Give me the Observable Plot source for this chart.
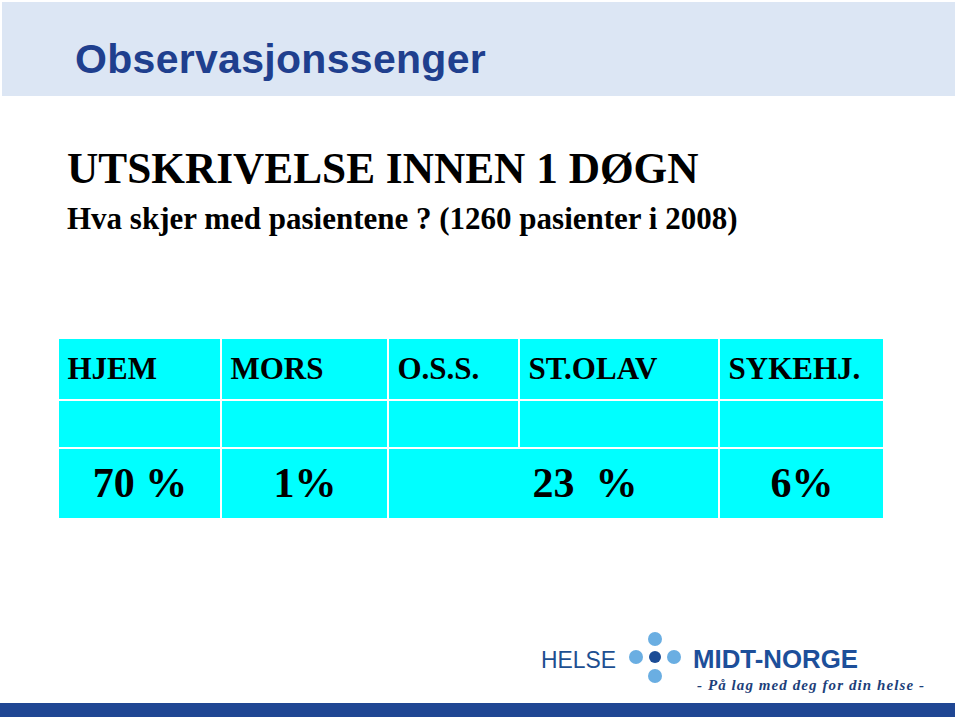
<!DOCTYPE html>
<html>
<head>
<meta charset="utf-8">
<script src="https://cdn.jsdelivr.net/npm/d3@7"></script>
<script src="https://cdn.jsdelivr.net/npm/@observablehq/plot@0.6"></script>
<style>
  html, body { margin: 0; padding: 0; background: #ffffff; }
  #slide { position: relative; width: 960px; height: 720px; overflow: hidden; background: #ffffff; }
  .abs { position: absolute; white-space: pre; line-height: 1; }
  #band { left: 2px; top: 2px; width: 953px; height: 94px; background: #dce6f4; }
  #title { left: 75px; top: 39px; font-family: "Liberation Sans", Arial, sans-serif; font-weight: bold; font-size: 41px; color: #1f3f8e; letter-spacing: 0.3px; }
  #heading { left: 67px; top: 147px; font-family: "Liberation Serif", "Times New Roman", serif; font-weight: bold; font-size: 43.3px; color: #000; }
  #subheading { left: 67px; top: 203px; font-family: "Liberation Serif", "Times New Roman", serif; font-weight: bold; font-size: 31px; color: #000; }
  #table { left: 0px; top: 330px; }
  #logo { left: 0px; top: 620px; }
</style>
</head>
<body>
<div id="slide">
  <div id="band" class="abs"></div>
  <div id="title" class="abs">Observasjonssenger</div>
  <div id="heading" class="abs">UTSKRIVELSE INNEN 1 DØGN</div>
  <div id="subheading" class="abs">Hva skjer med pasientene ? (1260 pasienter i 2008)</div>
  <div id="table" class="abs"></div>
  <svg id="logo" class="abs" width="960" height="100" viewBox="0 620 960 100">
    <rect x="0" y="703" width="955" height="14" fill="#1f4693"></rect>
    <text x="541" y="668" font-family="Liberation Sans, Arial, sans-serif" font-size="24" fill="#1d4f91" textLength="75" lengthAdjust="spacingAndGlyphs">HELSE</text>
    <circle cx="636" cy="657" r="7" fill="#6aaee2"></circle>
    <circle cx="674" cy="657" r="7" fill="#6aaee2"></circle>
    <circle cx="655" cy="639" r="7" fill="#6aaee2"></circle>
    <circle cx="655" cy="676" r="7" fill="#6aaee2"></circle>
    <circle cx="655" cy="657" r="6" fill="#1b4c96"></circle>
    <text x="693" y="668" font-family="Liberation Sans, Arial, sans-serif" font-weight="bold" font-size="25" fill="#1d4f9a" textLength="165" lengthAdjust="spacingAndGlyphs">MIDT-NORGE</text>
    <text x="697" y="690" font-family="Liberation Serif, Times New Roman, serif" font-style="italic" font-weight="bold" font-size="15" fill="#1d3f7a" textLength="227" lengthAdjust="spacing">- På lag med deg for din helse -</text>
  </svg>
</div>
<script>
// ---- data ----
const headers = ["HJEM", "MORS", "O.S.S.", "ST.OLAV", "SYKEHJ."];
const shares = [70, 1, 23, 6];                       // percent of the 1260 patients
const shareLabels = ["70 %", "1%", "23  %", "6%"];
const shareGroups = [["HJEM"], ["MORS"], ["O.S.S.", "ST.OLAV"], ["SYKEHJ."]];

// ---- layout (not data) ----
const colWidths = [163, 167, 131, 200, 165];
const rowHeights = [62, 48, 71];
const mergedTextShift = 31;
const colStart = colWidths.map((w, i) => d3.sum(colWidths.slice(0, i)));
const rowStart = rowHeights.map((h, i) => d3.sum(rowHeights.slice(0, i)));
const totalW = d3.sum(colWidths), totalH = d3.sum(rowHeights);
const colIndex = new Map(headers.map((h, i) => [h, i]));

const headerCells = headers.map((h, i) => ({
  label: h, x1: colStart[i], x2: colStart[i] + colWidths[i], y1: rowStart[0], y2: rowStart[0] + rowHeights[0]
}));
const blankCells = headers.map((h, i) => ({
  x1: colStart[i], x2: colStart[i] + colWidths[i], y1: rowStart[1], y2: rowStart[1] + rowHeights[1]
}));
const valueCells = shareGroups.map((g, j) => {
  const a = colIndex.get(g[0]), b = colIndex.get(g[g.length - 1]);
  return {
    value: shares[j], label: shareLabels[j], span: g.length,
    x1: colStart[a], x2: colStart[b] + colWidths[b], y1: rowStart[2], y2: rowStart[2] + rowHeights[2]
  };
});
const allCells = [...headerCells, ...blankCells, ...valueCells];

const chart = Plot.plot({
  width: 960,
  height: 200,
  margin: 0,
  x: { type: "linear", domain: [0, totalW], range: [58, 58 + totalW], axis: null },
  y: { type: "linear", domain: [0, totalH], range: [8, 8 + totalH], axis: null },
  style: { background: "transparent", overflow: "visible" },
  marks: [
    Plot.rect(allCells, { x1: "x1", x2: "x2", y1: "y1", y2: "y2", fill: "#00ffff", stroke: "#ffffff", strokeWidth: 2 }),
    Plot.text(headerCells, {
      x: "x1", y: d => (d.y1 + d.y2) / 2, text: "label", textAnchor: "start", dx: 9, dy: 0,
      fontFamily: "Liberation Serif, Times New Roman, serif", fontWeight: "bold", fontSize: 31, fill: "#000000"
    }),
    Plot.text(valueCells, {
      x: d => (d.x1 + d.x2) / 2 + (d.span > 1 ? mergedTextShift : 0),
      y: d => (d.y1 + d.y2) / 2, text: "label", textAnchor: "middle", dy: 0,
      fontFamily: "Liberation Serif, Times New Roman, serif", fontWeight: "bold", fontSize: 42, fill: "#000000"
    })
  ]
});
d3.select(chart).selectAll("text").attr("xml:space", "preserve").style("white-space", "pre");
document.getElementById("table").appendChild(chart);
</script>
</body>
</html>
